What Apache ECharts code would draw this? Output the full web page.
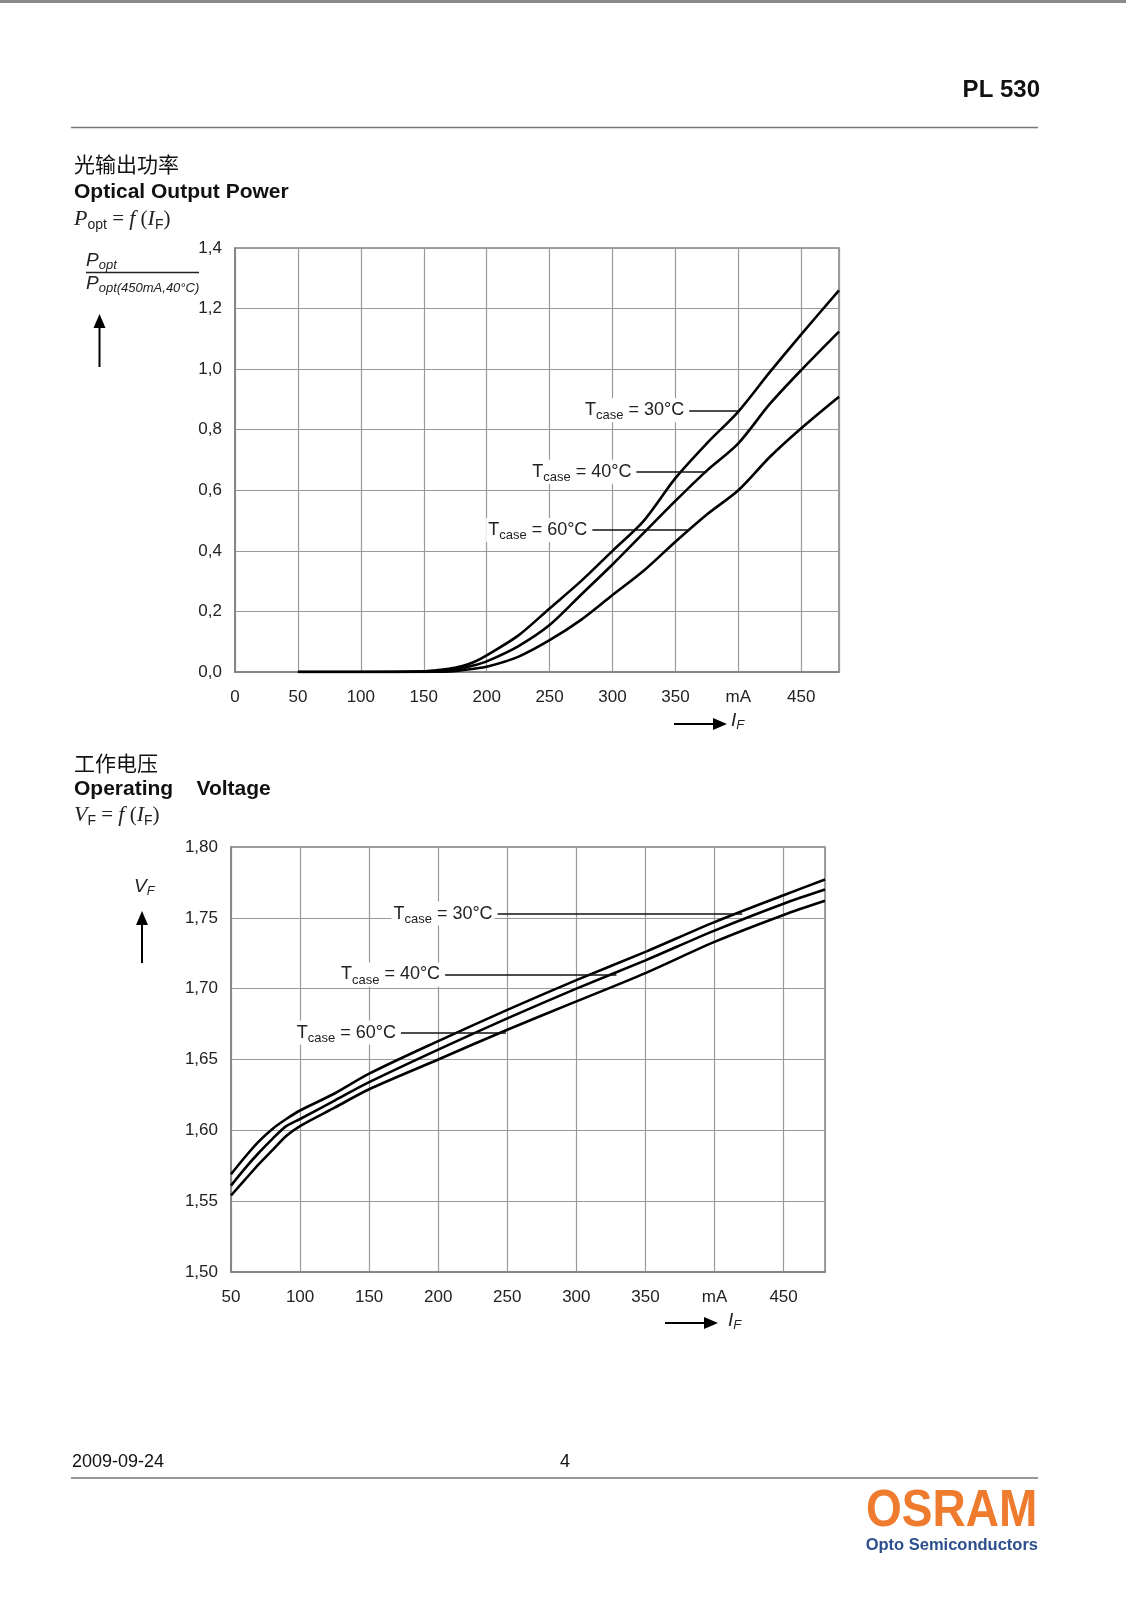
<!DOCTYPE html>
<html>
<head>
<meta charset="utf-8">
<script src="https://cdn.jsdelivr.net/npm/echarts@6/dist/echarts.min.js"></script>
<style>
  body { margin: 0; background: #fff; }
  #main { width: 1126px; height: 1600px; }
</style>
</head>
<body>
<div id="main"></div>
<script>
// Optical output power (relative), x in mA
var powerCurrent = [50, 100, 150, 160, 170, 180, 190, 200, 225, 250, 275, 300, 325, 350, 375, 400, 425, 450, 480]
var power30 = [0, 0, 0.002, 0.006, 0.011, 0.019, 0.033, 0.055, 0.12, 0.21, 0.30, 0.40, 0.50, 0.64, 0.755, 0.86, 0.99, 1.115, 1.26]
var power40 = [0, 0, 0.001, 0.003, 0.006, 0.012, 0.022, 0.035, 0.085, 0.155, 0.255, 0.355, 0.46, 0.565, 0.665, 0.755, 0.885, 0.997, 1.124]
var power60 = [0, 0, 0, 0.001, 0.002, 0.006, 0.011, 0.017, 0.05, 0.105, 0.172, 0.254, 0.335, 0.43, 0.52, 0.60, 0.71, 0.805, 0.909]

// Operating voltage, x in mA
var voltCurrent = [50, 60, 70, 80, 90, 100, 125, 150, 200, 250, 300, 350, 400, 450, 480]
var volt30 = [1.569, 1.581, 1.592, 1.601, 1.608, 1.614, 1.626, 1.640, 1.663, 1.685, 1.706, 1.726, 1.747, 1.766, 1.777]
var volt40 = [1.561, 1.573, 1.584, 1.594, 1.603, 1.608, 1.621, 1.634, 1.657, 1.679, 1.700, 1.720, 1.741, 1.760, 1.770]
var volt60 = [1.554, 1.565, 1.576, 1.586, 1.596, 1.603, 1.616, 1.629, 1.650, 1.671, 1.691, 1.711, 1.733, 1.752, 1.762]

var temps = ['30°C', '40°C', '60°C']

// leader lines for the curve labels: y value, x start, x end
var powerLabelY = [0.864, 0.661, 0.469]
var powerLabelFrom = [361, 319, 284]
var powerLabelTo = [400, 375, 361]
var voltLabelY = [1.753, 1.710, 1.669]
var voltLabelFrom = [243, 205, 173]
var voltLabelTo = [420, 329, 249]

var SANS = "'Liberation Sans', Arial, sans-serif"
var SERIF = "'Liberation Serif', 'Times New Roman', serif"
var TXT = '#222'
var GRID = '#9a9a9a'

function pairs (xs, ys) {
  return xs.map(function (x, i) { return [x, ys[i]] })
}

function curve (name, xi, yi, xs, ys, ly, lfrom, lto) {
  return {
    name: name,
    type: 'line',
    xAxisIndex: xi,
    yAxisIndex: yi,
    data: pairs(xs, ys),
    showSymbol: false,
    smooth: 0.3,
    silent: true,
    animation: false,
    lineStyle: { color: '#000', width: 2.6 },
    markLine: {
      silent: true,
      animation: false,
      symbol: ['none', 'none'],
      lineStyle: { color: '#111', width: 1.6, type: 'solid' },
      label: {
        show: true,
        position: 'start',
        distance: 3,
        backgroundColor: '#fff',
        padding: [0, 2, 0, 2],
        formatter: '{t|T}{s|case}{t| = ' + name + '}',
        rich: {
          t: { fontFamily: SANS, fontSize: 18, color: TXT, lineHeight: 24 },
          s: { fontFamily: SANS, fontSize: 13, color: TXT, lineHeight: 13, padding: [11, 0, 0, 0] }
        }
      },
      data: [[{ coord: [lfrom, ly] }, { coord: [lto, ly] }]]
    }
  }
}

function xAxisCfg (gi, min) {
  return {
    type: 'value',
    gridIndex: gi,
    min: min,
    max: 480,
    interval: 50,
    axisTick: { show: false },
    axisLine: { show: true, lineStyle: { color: '#7f7f7f', width: 1.5 } },
    splitLine: { show: true, lineStyle: { color: GRID, width: 1.2 } },
    axisLabel: {
      show: true,
      margin: 17,
      showMaxLabel: false,
      color: TXT,
      fontFamily: SANS,
      fontSize: 17,
      formatter: function (v) {
        if (v % 50 !== 0) return ''
        return v === 400 ? 'mA' : String(v)
      }
    }
  }
}

function yAxisCfg (gi, min, max, step, digits) {
  return {
    type: 'value',
    gridIndex: gi,
    min: min,
    max: max,
    interval: step,
    axisTick: { show: false },
    axisLine: { show: true, lineStyle: { color: '#7f7f7f', width: 1.5 } },
    splitLine: { show: true, lineStyle: { color: GRID, width: 1.2 } },
    axisLabel: {
      show: true,
      margin: 13,
      color: TXT,
      fontFamily: SANS,
      fontSize: 17,
      formatter: function (v) { return v.toFixed(digits).replace('.', ',') }
    }
  }
}

function txt (x, y, text, font, size, weight, opts) {
  var o = {
    type: 'text',
    x: x,
    y: y,
    silent: true,
    style: {
      text: text,
      fontFamily: font,
      fontSize: size,
      fontWeight: weight || 'normal',
      fill: TXT,
      textAlign: 'left',
      textVerticalAlign: 'middle'
    }
  }
  if (opts) {
    for (var k in opts) {
      if (k === 'style') {
        for (var s in opts.style) o.style[s] = opts.style[s]
      } else {
        o[k] = opts[k]
      }
    }
  }
  return o
}

function hline (x1, x2, y, color, w) {
  return { type: 'line', silent: true, shape: { x1: x1, y1: y, x2: x2, y2: y }, style: { stroke: color, lineWidth: w } }
}

function arrowUp (x, top, bottom) {
  return [
    { type: 'line', silent: true, shape: { x1: x, y1: top + 10, x2: x, y2: bottom }, style: { stroke: '#000', lineWidth: 2 } },
    { type: 'polygon', silent: true, shape: { points: [[x, top], [x - 6, top + 14], [x + 6, top + 14]] }, style: { fill: '#000' } }
  ]
}

function arrowRight (y, left, right) {
  return [
    { type: 'line', silent: true, shape: { x1: left, y1: y, x2: right - 10, y2: y }, style: { stroke: '#000', lineWidth: 2 } },
    { type: 'polygon', silent: true, shape: { points: [[right, y], [right - 14, y - 6], [right - 14, y + 6]] }, style: { fill: '#000' } }
  ]
}

var formulaRich = {
  i: { fontFamily: SERIF, fontStyle: 'italic', fontSize: 22, color: TXT, lineHeight: 26 },
  n: { fontFamily: SERIF, fontSize: 21, color: TXT, lineHeight: 26 },
  s: { fontFamily: SANS, fontSize: 14, color: TXT, lineHeight: 14, padding: [12, 0, 0, 0] }
}
var axisRich = {
  i: { fontFamily: SANS, fontStyle: 'italic', fontSize: 19, color: TXT, lineHeight: 22 },
  s: { fontFamily: SANS, fontStyle: 'italic', fontSize: 13, color: TXT, lineHeight: 13, padding: [9, 0, 0, 0] }
}

var graphics = [
  { type: 'rect', silent: true, shape: { x: 0, y: 0, width: 1126, height: 3 }, style: { fill: '#8a8a8a' } },
  txt(1040, 90, 'PL 530', SANS, 24, 'bold', { style: { textAlign: 'right', fill: '#111' } }),
  hline(71, 1038, 127.5, '#777', 1.5),

  txt(74, 164, '光输出功率', "'Noto Sans CJK SC', sans-serif", 21, 'normal', { style: { fill: '#111' } }),
  txt(74, 192, 'Optical Output Power', SANS, 21, 'bold', { style: { fill: '#111' } }),
  txt(74, 219, '{i|P}{s|opt}{n| = }{i|f}{n| (}{i|I}{s|F}{n|)}', SERIF, 21, 'normal', { style: { rich: formulaRich } }),

  txt(86, 261, '{i|P}{s|opt}', SANS, 19, 'normal', { style: { rich: axisRich } }),
  hline(86, 199, 272.5, '#222', 1.5),
  txt(86, 284, '{i|P}{s|opt(450mA,40°C)}', SANS, 19, 'normal', { style: { rich: axisRich } }),

  txt(731, 721, '{i|I}{s|F}', SANS, 19, 'normal', { style: { rich: axisRich } }),

  txt(74, 763, '工作电压', "'Noto Sans CJK SC', sans-serif", 21, 'normal', { style: { fill: '#111' } }),
  txt(74, 789, 'Operating    Voltage', SANS, 21, 'bold', { style: { fill: '#111' } }),
  txt(74, 815, '{i|V}{s|F}{n| = }{i|f}{n| (}{i|I}{s|F}{n|)}', SERIF, 21, 'normal', { style: { rich: formulaRich } }),

  txt(134, 887, '{i|V}{s|F}', SANS, 19, 'normal', { style: { rich: axisRich } }),
  txt(728, 1321, '{i|I}{s|F}', SANS, 19, 'normal', { style: { rich: axisRich } }),

  txt(72, 1462, '2009-09-24', SANS, 18, 'normal', { style: { fill: '#111' } }),
  txt(565, 1462, '4', SANS, 18, 'normal', { style: { textAlign: 'center', fill: '#111' } }),
  hline(71, 1038, 1478, '#777', 1.5),
  txt(866, 1512, 'OSRAM', SANS, 52, 'bold', { scaleX: 0.885, style: { fill: '#ef7b2e' } }),
  txt(1038, 1545, 'Opto Semiconductors', SANS, 16.5, 'bold', { style: { textAlign: 'right', fill: '#2d4f8e' } })
]
graphics = graphics
  .concat(arrowUp(99.5, 314, 367))
  .concat(arrowRight(724, 674, 727))
  .concat(arrowUp(142, 911, 963))
  .concat(arrowRight(1323, 665, 718))

var option = {
  backgroundColor: '#fff',
  animation: false,
  grid: [
    { left: 235, top: 248, width: 604, height: 424, show: true, borderColor: '#7f7f7f', borderWidth: 1.5, backgroundColor: 'transparent' },
    { left: 231, top: 847, width: 594, height: 425, show: true, borderColor: '#7f7f7f', borderWidth: 1.5, backgroundColor: 'transparent' }
  ],
  xAxis: [xAxisCfg(0, 0), xAxisCfg(1, 50)],
  yAxis: [yAxisCfg(0, 0, 1.4, 0.2, 1), yAxisCfg(1, 1.5, 1.8, 0.05, 2)],
  graphic: graphics,
  series: [
    curve(temps[0], 0, 0, powerCurrent, power30, powerLabelY[0], powerLabelFrom[0], powerLabelTo[0]),
    curve(temps[1], 0, 0, powerCurrent, power40, powerLabelY[1], powerLabelFrom[1], powerLabelTo[1]),
    curve(temps[2], 0, 0, powerCurrent, power60, powerLabelY[2], powerLabelFrom[2], powerLabelTo[2]),
    curve(temps[0], 1, 1, voltCurrent, volt30, voltLabelY[0], voltLabelFrom[0], voltLabelTo[0]),
    curve(temps[1], 1, 1, voltCurrent, volt40, voltLabelY[1], voltLabelFrom[1], voltLabelTo[1]),
    curve(temps[2], 1, 1, voltCurrent, volt60, voltLabelY[2], voltLabelFrom[2], voltLabelTo[2])
  ]
}

var chart = echarts.init(document.getElementById('main'))
chart.setOption(option)
</script>
</body>
</html>
